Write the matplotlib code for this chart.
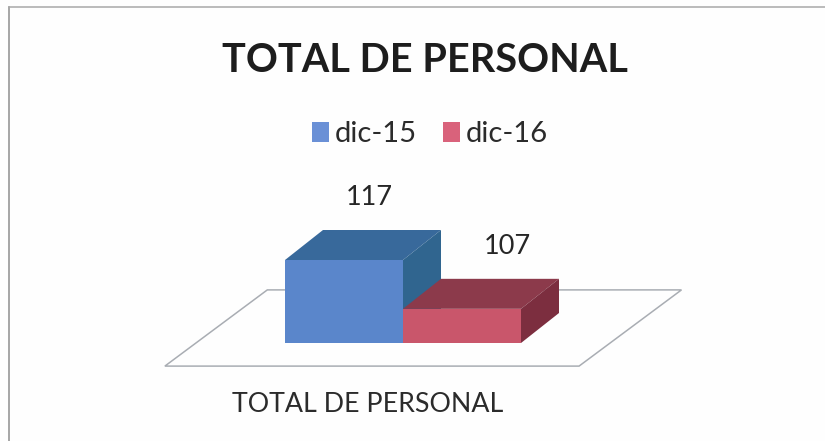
import matplotlib
matplotlib.use("Agg")
import matplotlib.pyplot as plt
from matplotlib.patches import Polygon, Patch
from matplotlib.lines import Line2D

plt.rcParams['font.family'] = ['Lato', 'DejaVu Sans']

title = "TOTAL DE PERSONAL"
categories = ["TOTAL DE PERSONAL"]
series = ["dic-15", "dic-16"]
values = [117, 107]
axis_min = 100
axis_max = 117

front = ["#5a86cb", "#c9566b"]
top = ["#38699b", "#8c3a4b"]
side = ["#30658f", "#7c2e3f"]
W, H = 825, 441

fig = plt.figure(figsize=(W / 100, H / 100), dpi=100, facecolor="#fefefe")
L, R, T, B = 285, 521, 260, 343
ax = fig.add_axes([L / W, 1 - B / H, (R - L) / W, (B - T) / H])
ax.set_xlim(0, len(values))
ax.set_ylim(axis_min, axis_max)
ax.axis("off")

px_x = (R - L) / len(values)
px_y = (B - T) / (axis_max - axis_min)
dx = 38 / px_x      # depth shift, data units per depth unit
dy = 30 / px_y


def proj(x, y, d=0.0):
    return (x + d * dx, y + d * dy)


# floor
floor_left, floor_right = -0.77, 2.74
d0, d1 = -0.77, 1.77
floor = [proj(floor_left, axis_min, d0), proj(floor_right, axis_min, d0),
         proj(floor_right + 0.05, axis_min, d1), proj(floor_left + 0.05, axis_min, d1)]
ax.add_patch(Polygon(floor, closed=True, fc="none", ec="#a9adb3", lw=1.1, clip_on=False, zorder=1))

label_shift = [-13, 7]
for i, v in enumerate(values):
    x0, x1 = i, i + 1
    z = 2 + i
    ax.bar(i + 0.5, v - axis_min, bottom=axis_min, width=1, color=front[i], zorder=z + 0.2, clip_on=False)
    ax.add_patch(Polygon([proj(x0, v), proj(x1, v), proj(x1, v, 1), proj(x0, v, 1)],
                         fc=top[i], ec="none", clip_on=False, zorder=z))
    ax.add_patch(Polygon([proj(x1, v), proj(x1, v, 1), proj(x1, axis_min, 1), proj(x1, axis_min)],
                         fc=side[i], ec="none", clip_on=False, zorder=z))
    lx, ly = proj(i + 0.5, v, 1)
    ax.annotate(str(v), (lx, ly), xytext=(label_shift[i], 20),
                textcoords="offset pixels", ha="center", va="bottom",
                fontsize=19.5, color="#262626", annotation_clip=False)

fig.text(425 / W, 1 - 60 / H, title, ha="center", va="center", fontsize=28.5,
         fontweight="bold", color="#1d1d1d")
fig.text(368 / W, 1 - 405 / H, categories[0], ha="center", va="center", fontsize=19.3, color="#2b2b2b")

handles = [Patch(fc=c, ec="none", label=s) for c, s in zip(["#6a90d6", "#d9627b"], series)]
fig.legend(handles=handles, loc="center", bbox_to_anchor=(430 / W, 1 - 134 / H), ncol=2, frameon=False,
           fontsize=21, handlelength=0.58, handleheight=0.68, handletextpad=0.2, columnspacing=0.9,
           labelcolor="#2b2b2b", borderpad=0)

fig.add_artist(Line2D([9 / W, 9 / W], [0, 1 - 7 / H], color="#8f8f8f", lw=1.1))
fig.add_artist(Line2D([9 / W, 1], [1 - 7 / H, 1 - 7 / H], color="#a8a8a8", lw=1.1))

fig.savefig("out.png", dpi=100, facecolor=fig.get_facecolor())
